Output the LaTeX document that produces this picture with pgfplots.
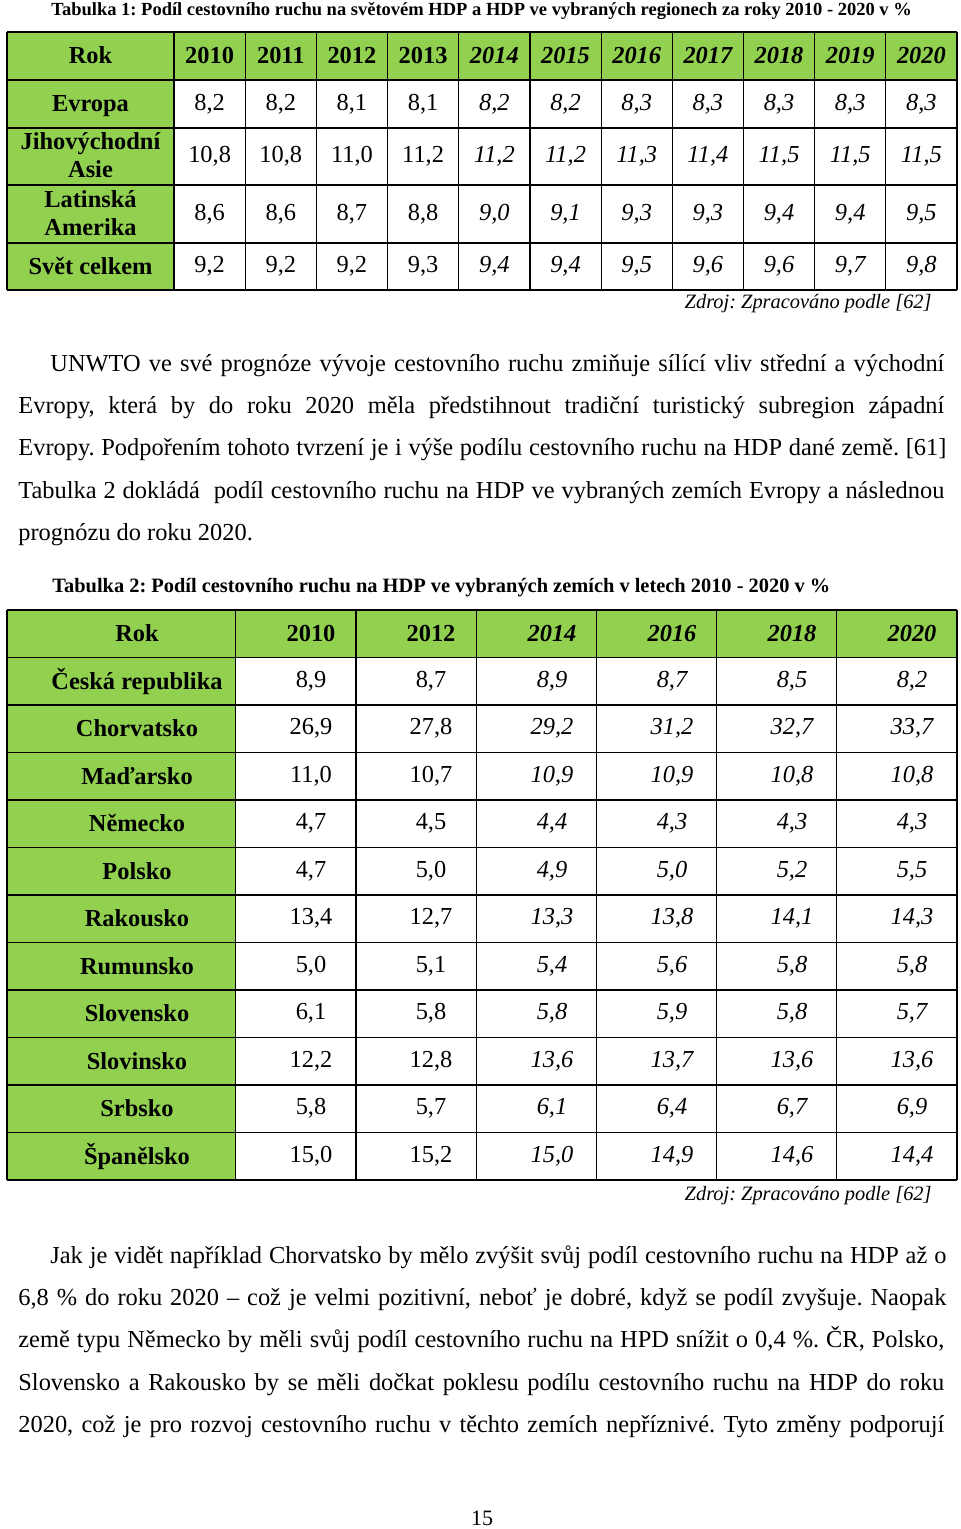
\documentclass[border=0pt]{standalone}
\usepackage{fontspec}
\setmainfont{Liberation Serif}
\usepackage{pgfplots}
\usepackage{pgfplotstable}
\pgfplotsset{compat=1.18}
\frenchspacing
\definecolor{tgreen}{RGB}{146,208,80}
\newcommand{\bodyfont}{\fontsize{12.2}{14}\selectfont}
\newcommand{\tabfont}{\fontsize{12.2}{14}\selectfont}
\newcommand{\capfont}{\fontsize{10.2}{12}\selectfont\bfseries}
\newcommand{\capfontA}{\fontsize{9.25}{12}\selectfont\bfseries}
\newcommand{\srcfont}{\fontsize{10.2}{12}\selectfont\itshape}

% Table 1: share of tourism on world GDP (y = row centre)
\pgfplotstableread{
y v2010 v2011 v2012 v2013 v2014 v2015 v2016 v2017 v2018 v2019 v2020
104 8.2 8.2 8.1 8.1 8.2 8.2 8.3 8.3 8.3 8.3 8.3
156.5 10.8 10.8 11.0 11.2 11.2 11.2 11.3 11.4 11.5 11.5 11.5
214 8.6 8.6 8.7 8.8 9.0 9.1 9.3 9.3 9.4 9.4 9.5
266.5 9.2 9.2 9.2 9.3 9.4 9.4 9.5 9.6 9.6 9.7 9.8
}\tabA

% Table 2: selected countries
\pgfplotstableread{
y v2010 v2012 v2014 v2016 v2018 v2020
681.25 8.9 8.7 8.9 8.7 8.5 8.2
728.75 26.9 27.8 29.2 31.2 32.7 33.7
776.25 11.0 10.7 10.9 10.9 10.8 10.8
823.75 4.7 4.5 4.4 4.3 4.3 4.3
871.25 4.7 5.0 4.9 5.0 5.2 5.5
918.75 13.4 12.7 13.3 13.8 14.1 14.3
966.25 5.0 5.1 5.4 5.6 5.8 5.8
1013.75 6.1 5.8 5.8 5.9 5.8 5.7
1061.25 12.2 12.8 13.6 13.7 13.6 13.6
1108.75 5.8 5.7 6.1 6.4 6.7 6.9
1156.25 15.0 15.2 15.0 14.9 14.6 14.4
}\tabB

\newcommand{\valcol}[4]{%
  \addplot[draw=none, mark=none, point meta=explicit,
    nodes near coords={\pgfmathprintnumber[fixed,fixed zerofill,precision=1,use comma]{\pgfplotspointmeta}},
    nodes near coords style={font=\tabfont#4, anchor=center, inner sep=0pt, text=black}]
    table[x expr=#1, y=y, meta=#2] {#3};}

\begin{document}
\begin{tikzpicture}
\begin{axis}[
  scale only axis, width=480pt, height=764.5pt,
  xmin=0, xmax=960, ymin=0, ymax=1529, y dir=reverse,
  hide axis, clip=false,
  /pgf/number format/assume math mode=true,
]
\path (0,0) rectangle (960,1529);

% ---------- Caption 1
\node[anchor=base west, inner sep=0pt, font=\capfontA] at (51,15.5)
  {Tabulka 1: Podíl cestovního ruchu na světovém HDP a HDP ve vybraných regionech za roky 2010 - 2020 v \%};

% ---------- Table 1 fills and grid
\fill[tgreen] (7,32) rectangle (957,80);
\fill[tgreen] (7,80) rectangle (174,290);
\draw[line width=0.6pt]
  (7,32) -- (957,32) (7,80) -- (957,80) (7,128) -- (957,128)
  (7,185) -- (957,185) (7,243) -- (957,243) (7,290) -- (957,290)
  (7,32) -- (7,290) (174,32) -- (174,290) (245.2,32) -- (245.2,290)
  (316.4,32) -- (316.4,290) (387.5,32) -- (387.5,290) (458.7,32) -- (458.7,290)
  (529.9,32) -- (529.9,290) (601.1,32) -- (601.1,290) (672.3,32) -- (672.3,290)
  (743.5,32) -- (743.5,290) (814.6,32) -- (814.6,290) (885.8,32) -- (885.8,290)
  (957,32) -- (957,290);

\begin{scope}[every node/.style={anchor=base, inner sep=0pt, font=\tabfont\bfseries}]
\node at (90.5,64) {Rok};
\node at (209.6,64) {2010};
\node at (280.8,64) {2011};
\node at (351.9,64) {2012};
\node at (423.1,64) {2013};
\node[font=\tabfont\bfseries\itshape] at (494.3,64) {2014};
\node[font=\tabfont\bfseries\itshape] at (565.5,64) {2015};
\node[font=\tabfont\bfseries\itshape] at (636.7,64) {2016};
\node[font=\tabfont\bfseries\itshape] at (707.9,64) {2017};
\node[font=\tabfont\bfseries\itshape] at (779.0,64) {2018};
\node[font=\tabfont\bfseries\itshape] at (850.2,64) {2019};
\node[font=\tabfont\bfseries\itshape] at (921.4,64) {2020};
\node at (90.5,112) {Evropa};
\node at (90.5,150) {Jihovýchodní};
\node at (90.5,178) {Asie};
\node at (90.5,208) {Latinská};
\node at (90.5,236) {Amerika};
\node at (90.5,274.5) {Svět celkem};
\end{scope}

\valcol{209.6}{v2010}{\tabA}{}
\valcol{280.8}{v2011}{\tabA}{}
\valcol{351.9}{v2012}{\tabA}{}
\valcol{423.1}{v2013}{\tabA}{}
\valcol{494.3}{v2014}{\tabA}{\itshape}
\valcol{565.5}{v2015}{\tabA}{\itshape}
\valcol{636.7}{v2016}{\tabA}{\itshape}
\valcol{707.9}{v2017}{\tabA}{\itshape}
\valcol{779.0}{v2018}{\tabA}{\itshape}
\valcol{850.2}{v2019}{\tabA}{\itshape}
\valcol{921.4}{v2020}{\tabA}{\itshape}

\node[anchor=base east, inner sep=0pt, font=\srcfont] at (932,309) {Zdroj: Zpracováno podle [62]};

% ---------- Paragraph 1
\begin{scope}[every node/.style={anchor=base west, inner sep=0pt, font=\bodyfont}]
\node at (50,372) {\makebox[447pt][s]{UNWTO ve své prognóze vývoje cestovního ruchu zmiňuje sílící vliv střední a východní}};
\node at (18,414) {\makebox[463pt][s]{Evropy, která by do roku 2020 měla předstihnout tradiční turistický subregion západní}};
\node at (18,456) {\makebox[464pt][s]{Evropy. Podpořením tohoto tvrzení je i výše podílu cestovního ruchu na HDP dané země. [61]}};
\node at (18,498) {\makebox[463pt][s]{Tabulka 2 dokládá \ podíl cestovního ruchu na HDP ve vybraných zemích Evropy a následnou}};
\node at (18,540) {prognózu do roku 2020.};
\end{scope}

% ---------- Caption 2
\node[anchor=base west, inner sep=0pt, font=\capfont] at (52,592)
  {Tabulka 2: Podíl cestovního ruchu na HDP ve vybraných zemích v letech 2010 - 2020 v \%};

% ---------- Table 2 fills and grid
\fill[tgreen] (7,610) rectangle (957,657.5);
\fill[tgreen] (7,657.5) rectangle (235.7,1180);
\draw[line width=0.6pt]
  (7,610) -- (957,610) (7,657.5) -- (957,657.5) (7,705) -- (957,705)
  (7,752.5) -- (957,752.5) (7,800) -- (957,800) (7,847.5) -- (957,847.5)
  (7,895) -- (957,895) (7,942.5) -- (957,942.5) (7,990) -- (957,990)
  (7,1037.5) -- (957,1037.5) (7,1085) -- (957,1085) (7,1132.5) -- (957,1132.5)
  (7,1180) -- (957,1180)
  (7,610) -- (7,1180) (235.7,610) -- (235.7,1180) (355.9,610) -- (355.9,1180)
  (476.1,610) -- (476.1,1180) (596.3,610) -- (596.3,1180) (716.5,610) -- (716.5,1180)
  (836.8,610) -- (836.8,1180) (957,610) -- (957,1180);

\begin{scope}[every node/.style={anchor=base, inner sep=0pt, font=\tabfont\bfseries}]
\node at (137,641.75) {Rok};
\node at (311,641.75) {2010};
\node at (431,641.75) {2012};
\node[font=\tabfont\bfseries\itshape] at (552,641.75) {2014};
\node[font=\tabfont\bfseries\itshape] at (672,641.75) {2016};
\node[font=\tabfont\bfseries\itshape] at (792,641.75) {2018};
\node[font=\tabfont\bfseries\itshape] at (912,641.75) {2020};
\node at (137,689.25) {Česká republika};
\node at (137,736.75) {Chorvatsko};
\node at (137,784.25) {Maďarsko};
\node at (137,831.75) {Německo};
\node at (137,879.25) {Polsko};
\node at (137,926.75) {Rakousko};
\node at (137,974.25) {Rumunsko};
\node at (137,1021.75) {Slovensko};
\node at (137,1069.25) {Slovinsko};
\node at (137,1116.75) {Srbsko};
\node at (137,1164.25) {Španělsko};
\end{scope}

\valcol{311}{v2010}{\tabB}{}
\valcol{431}{v2012}{\tabB}{}
\valcol{552}{v2014}{\tabB}{\itshape}
\valcol{672}{v2016}{\tabB}{\itshape}
\valcol{792}{v2018}{\tabB}{\itshape}
\valcol{912}{v2020}{\tabB}{\itshape}

\node[anchor=base east, inner sep=0pt, font=\srcfont] at (932,1200) {Zdroj: Zpracováno podle [62]};

% ---------- Paragraph 2
\begin{scope}[every node/.style={anchor=base west, inner sep=0pt, font=\bodyfont}]
\node at (50,1263) {\makebox[448pt][s]{Jak je vidět například Chorvatsko by mělo zvýšit svůj podíl cestovního ruchu na HDP až o}};
\node at (18,1305) {\makebox[464pt][s]{6,8 \% do roku 2020 – což je velmi pozitivní, neboť je dobré, když se podíl zvyšuje. Naopak}};
\node at (18,1347) {\makebox[463pt][s]{země typu Německo by měli svůj podíl cestovního ruchu na HPD snížit o 0,4 \%. ČR, Polsko,}};
\node at (18,1390) {\makebox[463pt][s]{Slovensko a Rakousko by se měli dočkat poklesu podílu cestovního ruchu na HDP do roku}};
\node at (18,1432) {\makebox[463pt][s]{2020, což je pro rozvoj cestovního ruchu v těchto zemích nepříznivé. Tyto změny podporují}};
\end{scope}

\node[anchor=base, inner sep=0pt, font=\fontsize{11}{13}\selectfont] at (482,1525) {15};

\end{axis}
\end{tikzpicture}
\end{document}
